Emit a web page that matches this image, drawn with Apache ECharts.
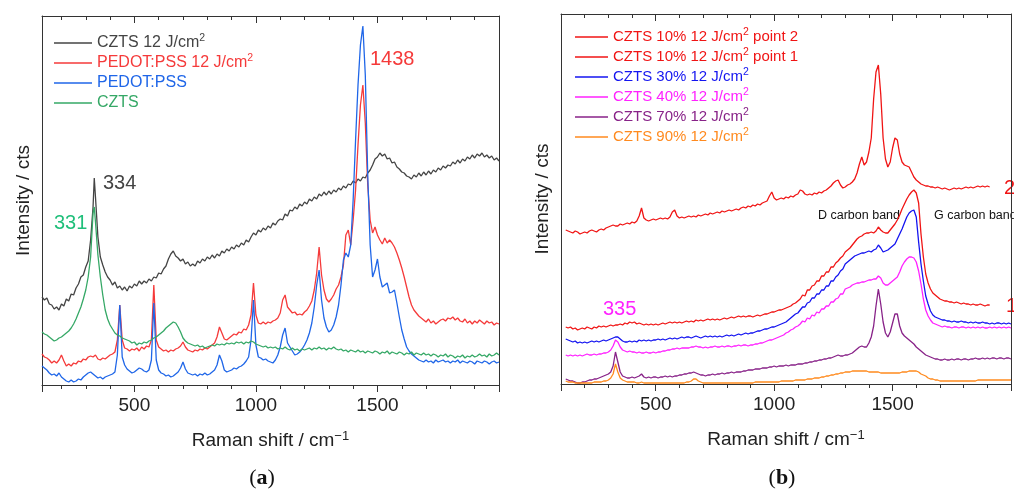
<!DOCTYPE html>
<html><head><meta charset="utf-8">
<script src="https://cdn.jsdelivr.net/npm/echarts@6/dist/echarts.min.js"></script>
<style>html,body{margin:0;padding:0;background:#fff}#c{width:1014px;height:493px}</style>
</head><body><div id="c"></div><script>
// Raman shift grid (cm^-1), shared by both panels
const ramanShift = [
120,130,140,150,160,170,180,190,200,210,
220,230,240,250,260,270,280,290,300,310,
320,330,335,340,350,360,370,380,390,400,
410,420,430,440,450,460,470,480,490,500,
510,520,530,540,550,560,570,580,590,600,
610,620,630,640,650,660,670,680,690,700,
710,720,730,740,750,760,770,780,790,800,
810,820,830,840,850,860,870,880,890,900,
910,920,930,940,950,960,970,980,990,1000,
1010,1020,1030,1040,1050,1060,1070,1080,1090,1100,
1110,1120,1130,1140,1150,1160,1170,1180,1190,1200,
1210,1220,1230,1240,1250,1260,1270,1280,1290,1300,
1310,1320,1330,1340,1350,1360,1370,1380,1390,1400,
1410,1420,1430,1440,1450,1460,1470,1480,1490,1500,
1510,1520,1530,1540,1550,1560,1570,1580,1590,1600,
1610,1620,1630,1640,1650,1660,1670,1680,1690,1700,
1710,1720,1730,1740,1750,1760,1770,1780,1790,1800,
1810,1820,1830,1840,1850,1860,1870,1880,1890,1900,
1910,1920,1930,1940,1950,1960,1970,1980,1990,2000];

// Panel (a) intensities (arbitrary units, offset as in figure)
const aCzts12 = [
88,85,87,81,80,76,78,75,81,79,
86,84,91,90,97,101,108,110,118,124,
145,178,207,188,148,128,120,113,108,105,
100,103,97,99,95,98,94,99,97,101,
99,104,101,104,102,106,104,108,107,112,
111,116,119,126,131,134,129,127,124,126,
121,123,119,121,119,124,122,126,124,128,
126,130,127,131,129,134,132,136,134,138,
136,140,138,142,140,145,143,148,152,150,
155,153,157,155,159,157,162,160,164,166,
165,171,169,175,174,178,176,181,179,183,
181,186,184,188,186,191,189,193,190,194,
191,195,193,197,195,199,197,201,200,204,
202,206,204,208,207,212,215,220,226,228,
232,229,231,226,227,222,223,218,216,213,
212,209,208,206,210,208,212,209,213,210,
214,211,215,213,217,215,219,217,220,219,
223,221,225,222,226,224,228,226,230,227,
231,229,232,228,230,227,229,225,227,224];
const aPedot12 = [
31,28,27,25,22,24,22,25,30,24,
19,21,19,22,21,24,23,26,25,28,
29,28,29,30,26,25,27,26,28,30,
31,33,45,80,45,37,36,34,36,35,
37,34,38,36,39,38,45,100,45,38,
36,34,35,33,35,34,36,37,39,43,
38,35,34,33,35,34,36,35,37,36,
38,40,42,48,58,52,46,45,47,49,
51,50,53,52,56,55,60,70,102,70,
62,61,63,61,63,62,64,65,67,72,
85,90,78,75,72,73,70,71,70,73,
75,79,84,95,112,138,110,95,86,83,
86,90,96,100,108,120,150,155,140,165,
195,240,280,300,262,200,165,152,158,150,
145,141,147,142,145,142,138,132,125,117,
108,98,88,80,75,72,69,67,65,63,
66,62,64,61,63,65,66,64,67,66,
68,65,67,64,63,66,62,64,61,64,
62,65,63,61,64,62,63,60,62,61];
const aPedot = [
19,17,15,12,10,11,9,12,8,6,
4,3,5,3,4,6,5,8,10,12,
13,11,10,9,7,8,6,8,9,10,
11,13,30,80,28,20,16,14,12,13,
15,17,16,14,13,15,25,82,25,15,
12,11,9,10,8,9,11,13,17,23,
16,12,11,10,11,9,11,10,12,10,
11,13,15,20,30,24,15,13,14,15,
17,16,18,19,21,24,28,45,85,40,
28,27,25,26,24,23,22,25,30,38,
50,57,42,38,34,30,31,33,36,40,
45,52,62,78,100,115,85,67,58,53,
55,60,68,80,100,125,132,128,140,185,
245,300,340,359,310,210,140,108,115,126,
108,98,100,102,92,93,95,82,68,55,
46,38,34,31,29,27,25,24,23,25,
23,24,22,25,23,24,25,23,24,22,
24,23,25,22,24,23,22,24,23,21,
24,23,22,24,23,21,23,24,22,23];
const aCzts = [
53,51,50,48,46,44,45,47,48,50,
52,54,57,61,66,72,78,86,95,108,
128,172,178,163,130,108,90,75,66,60,
56,52,50,49,47,46,45,44,42,43,
40,42,41,43,42,44,45,47,48,50,
52,54,57,59,61,63,62,58,53,47,
44,42,41,40,39,40,38,39,37,38,
39,40,39,41,40,41,40,42,41,42,
41,43,42,43,41,43,42,44,43,41,
40,39,38,39,37,38,37,38,36,37,
36,38,36,35,37,35,36,34,36,35,
36,37,35,37,36,38,36,37,35,37,
36,38,36,35,36,34,35,33,35,34,
33,35,33,34,32,34,33,32,34,33,
31,33,32,34,31,33,32,31,33,32,
30,32,31,33,30,32,31,30,32,30,
31,29,31,30,28,30,29,31,28,30,
29,27,29,28,30,27,29,28,30,28,
29,31,29,30,28,31,29,30,32,30];

// Panel (b) intensities
const bC10p2 = [
154,153,152,151,153,152,150,151,152,151,
153,154,153,152,154,155,154,156,157,158,
159,158,159,158,160,159,160,161,160,162,
161,163,168,176,166,164,163,164,165,164,
165,166,165,166,165,167,172,174,168,166,
167,166,167,168,167,168,167,169,168,169,
170,169,171,170,171,172,171,173,172,173,
174,173,174,175,174,176,177,176,178,177,
179,178,180,179,181,182,183,188,192,186,
184,185,186,185,187,186,188,187,189,190,
194,193,190,189,190,189,191,190,192,191,
193,194,196,198,201,203,204,199,196,197,
199,200,202,205,211,220,227,219,222,232,
246,285,312,319,290,246,225,217,222,236,
246,244,230,222,219,218,217,212,207,204,
202,200,199,198,198,197,197,196,197,196,
195,196,195,194,195,196,195,196,195,196,
197,196,197,196,197,198,197,198,197,198,
197,null,null,null,null,null,null,null,null,null];
const bC10p1 = [
57,56,57,55,56,54,55,56,55,57,
56,55,57,56,58,57,58,57,58,59,
58,59,60,59,60,59,61,60,62,61,
62,60,61,60,59,60,59,60,59,60,
59,60,61,60,61,62,61,62,61,62,
61,62,63,62,63,62,64,63,64,63,
64,65,64,65,64,65,64,65,66,65,
66,67,66,67,68,67,68,67,68,68,
67,68,69,68,69,70,70,71,72,72,
73,74,74,75,76,77,78,80,81,83,
85,89,88,94,94,98,99,103,103,108,
108,112,112,117,117,121,123,126,128,132,
134,136,139,142,145,147,148,150,151,151,
152,151,153,157,154,152,151,151,154,157,
160,164,169,175,180,185,189,192,194,191,
181,150,127,110,101,95,91,89,87,85,
84,83,83,82,82,81,82,81,80,81,
80,80,79,80,79,79,80,79,78,79,
79,null,null,null,null,null,null,null,null,null];
const bC30 = [
45,44,43,42,43,41,42,41,42,41,
42,43,42,43,42,43,44,43,44,45,
46,47,48,47,45,43,42,42,43,42,
43,42,44,43,44,43,44,43,44,44,
45,44,45,44,45,46,45,46,45,46,
47,46,47,47,46,47,48,47,46,47,
48,47,48,47,48,47,48,47,48,49,
48,49,48,49,50,49,50,51,50,51,
51,52,53,53,54,55,55,56,57,57,
58,59,60,61,62,64,66,68,70,71,
74,77,77,81,82,86,86,90,90,94,
94,98,98,103,103,107,109,113,115,120,
122,124,126,128,129,130,131,131,132,133,
132,134,135,139,136,132,133,134,136,138,
140,145,150,155,161,167,171,173,174,167,
142,120,103,88,80,73,69,67,66,65,
64,64,63,63,62,63,62,62,63,62,
62,61,62,61,62,61,61,62,61,61,
60,61,60,61,61,60,61,60,61,60];
const bC40 = [
29,28,29,28,29,28,29,28,29,30,
29,29,30,29,30,30,31,31,32,34,
38,44,45,42,37,34,33,32,33,32,
32,31,32,31,31,32,31,31,32,31,
32,32,33,33,34,34,35,35,36,35,
36,36,36,36,37,37,38,37,37,36,
37,36,37,37,38,37,37,38,37,38,
38,37,38,38,39,38,39,39,38,39,
39,40,40,41,41,42,43,44,44,45,
46,47,48,49,51,52,54,55,57,58,
60,63,62,66,65,69,68,72,71,75,
75,78,78,82,82,85,86,90,90,95,
96,97,99,100,101,101,102,102,103,104,
104,105,105,108,106,101,99,99,101,103,
105,107,112,118,122,125,127,127,126,122,
113,100,85,74,68,64,61,60,59,58,
57,58,57,57,56,57,57,56,57,57,
56,57,56,57,56,57,56,57,56,56,
57,56,57,56,57,56,57,56,57,56];
const bC70 = [
5,4,3,3,2,1,1,2,2,3,
4,4,5,5,6,7,8,9,10,12,
18,32,34,22,12,8,7,6,6,7,
6,7,8,10,7,6,7,6,7,7,
6,7,7,8,7,8,7,8,8,9,
9,10,10,11,11,12,11,10,9,9,
8,9,9,10,9,10,10,11,10,11,
11,12,11,12,12,12,13,13,14,14,
14,15,15,15,16,16,16,17,17,18,
17,18,18,18,19,18,19,19,19,20,
20,20,21,21,22,22,23,23,24,24,
25,25,26,26,27,28,29,28,28,29,
29,30,31,33,35,37,38,37,37,41,
47,58,78,95,80,62,51,47,52,61,
70,70,58,51,48,46,44,42,40,37,
35,33,31,29,28,27,26,25,25,24,
24,25,24,24,25,24,25,25,24,25,
25,24,25,25,26,25,25,26,25,26,
25,26,26,25,26,26,25,26,26,25];
const bC90 = [
3,2,2,2,1,1,1,1,1,1,
1,1,2,2,2,2,3,3,4,6,
10,20,22,12,6,4,3,2,2,2,
2,1,1,2,1,1,1,1,1,1,
1,1,1,1,1,1,1,1,1,1,
1,1,2,2,3,5,5,3,2,1,
1,1,1,1,1,1,1,1,1,1,
1,1,1,1,1,1,1,1,1,1,
1,2,2,2,2,2,2,2,2,2,
2,2,3,3,3,3,3,3,4,4,
4,4,4,5,5,5,6,6,6,7,
7,8,8,9,9,10,10,11,11,12,
12,12,13,13,13,13,13,13,13,12,
12,12,12,12,11,11,11,11,11,11,
11,11,11,12,12,12,13,13,13,13,
12,10,9,8,6,5,5,4,4,3,
3,3,3,3,3,3,3,3,3,3,
3,3,3,3,3,4,4,4,4,4,
4,4,4,4,4,4,4,4,4,4];

const seriesNamesA = ['CZTS 12 J/cm²','PEDOT:PSS 12 J/cm²','PEDOT:PSS','CZTS'];
const seriesNamesB = ['CZTS 10% 12 J/cm² point 2','CZTS 10% 12 J/cm² point 1','CZTS 30% 12 J/cm²','CZTS 40% 12 J/cm²','CZTS 70% 12 J/cm²','CZTS 90% 12 J/cm²'];
const colorsA = ['#444444','#f53a3a','#1f66e8','#35a866'];
const colorsB = ['#f01414','#f01414','#1414f0','#ff22ff','#882288','#ff8a1e'];
const valuesA = [aCzts12, aPedot12, aPedot, aCzts];
const valuesB = [bC10p2, bC10p1, bC30, bC40, bC70, bC90];

const FONT = '"Liberation Sans", Arial, sans-serif';
const AX = '#333333';

function pairs(ys){ return ramanShift.map((x,i)=>[x, ys[i]]); }

function makeX(gi, min, max){
  const base = {type:'value', gridIndex:gi, min:min, max:max, minInterval:500, maxInterval:500,
    axisLine:{show:true, onZero:false, lineStyle:{color:AX, width:1}},
    minorTick:{show:true, splitNumber:5, length:4, lineStyle:{color:AX, width:1}},
    splitLine:{show:false}, minorSplitLine:{show:false}};
  return [
    Object.assign({}, base, {position:'bottom',
      axisTick:{show:true, inside:false, length:7, lineStyle:{color:AX, width:1}},
      axisLabel:{show:true, margin:11, color:'#222', fontFamily:FONT, fontSize:19,
        formatter:function(v){ return (v%500===0 && v>min && v<max) ? String(v) : ''; }},
      name:'Raman shift / cm{sup|−1}', nameLocation:'middle', nameGap:45,
      nameTextStyle:{color:'#222', fontFamily:FONT, fontSize:19,
        rich:{sup:{fontSize:13, fontFamily:FONT, color:'#222', verticalAlign:'top', padding:[0,0,8,0]}}}}),
    Object.assign({}, base, {position:'top',
      axisTick:{show:true, inside:true, length:7, lineStyle:{color:AX, width:1}},
      axisLabel:{show:false}})
  ];
}
function makeY(gi, max){
  return [
    {type:'value', gridIndex:gi, min:0, max:max, position:'left',
      axisLine:{show:true, lineStyle:{color:AX, width:1}}, axisTick:{show:false}, axisLabel:{show:false},
      splitLine:{show:false},
      name:'Intensity / cts', nameLocation:'middle', nameGap:9, nameRotate:90,
      nameTextStyle:{color:'#222', fontFamily:FONT, fontSize:19}},
    {type:'value', gridIndex:gi, min:0, max:max, position:'right',
      axisLine:{show:true, lineStyle:{color:AX, width:1}}, axisTick:{show:false}, axisLabel:{show:false},
      splitLine:{show:false}}
  ];
}

const series = [];
valuesA.forEach((v,i)=>series.push({name:seriesNamesA[i], type:'line', xAxisIndex:0, yAxisIndex:0,
  data:pairs(v), showSymbol:false, symbol:'none', animation:false, connectNulls:false,
  lineStyle:{color:colorsA[i], width:1.3}, itemStyle:{color:colorsA[i]}}));
valuesB.forEach((v,i)=>series.push({name:seriesNamesB[i], type:'line', xAxisIndex:2, yAxisIndex:2,
  data:pairs(v), showSymbol:false, symbol:'none', animation:false, connectNulls:false,
  lineStyle:{color:colorsB[i], width:1.3}, itemStyle:{color:colorsB[i]}}));

function legendItems(names, colors){
  return names.map((n,i)=>({name:n, textStyle:{color:colors[i],
    rich:{sup:{color:colors[i], fontSize:10.5, fontFamily:FONT, verticalAlign:'top', lineHeight:20}}}}));
}
const legendCommon = {orient:'vertical', icon:'rect', itemHeight:1.5, itemGap:0, selectedMode:false,
  padding:0, textStyle:{fontFamily:FONT, fontSize:16, lineHeight:20},
  formatter:function(n){ return n.replace('²','{sup|2}'); }};

function txt(x, y, text, color, size, extra){
  return Object.assign({type:'text', x:x, y:y, silent:true,
    style:{text:text, fill:color, fontFamily:FONT, fontSize:size, align:'left', verticalAlign:'middle'}}, extra||{});
}

const option = {
  backgroundColor:'#ffffff',
  animation:false,
  grid:[
    {left:42, top:16, width:457, height:369, containLabel:false},
    {left:561, top:14, width:461, height:370, containLabel:false}
  ],
  xAxis:[].concat(makeX(0,120,2000), makeX(1,100,2000)),
  yAxis:[].concat(makeY(0,369), makeY(1,370)),
  legend:[
    Object.assign({}, legendCommon, {left:54, top:33, itemWidth:38, data:legendItems(seriesNamesA, colorsA)}),
    Object.assign({}, legendCommon, {left:575, top:27, itemWidth:33, data:legendItems(seriesNamesB, colorsB),
      textStyle:{fontFamily:FONT, fontSize:15, lineHeight:20}})
  ],
  series:series,
  graphic:[
    txt(103,183,'334','#444444',20),
    txt(54,223,'331','#1fbf7a',20),
    txt(370,59,'1438','#f53a3a',20),
    txt(603,309,'335','#ff22ff',20),
    txt(818,216,'D carbon band','#111111',12.5),
    txt(934,216,'G carbon band','#111111',12.5),
    txt(1004,188,'2','#f01414',20),
    txt(1006,306,'1','#f01414',20),
    {type:'text', x:262, y:478, silent:true, style:{text:'({b|a})', fill:'#111', fontFamily:'"Liberation Serif", serif', fontSize:22, align:'center', verticalAlign:'middle',
      rich:{b:{fontWeight:'bold', fontFamily:'"Liberation Serif", serif', fontSize:22, fill:'#111'}}}},
    {type:'text', x:782, y:478, silent:true, style:{text:'({b|b})', fill:'#111', fontFamily:'"Liberation Serif", serif', fontSize:22, align:'center', verticalAlign:'middle',
      rich:{b:{fontWeight:'bold', fontFamily:'"Liberation Serif", serif', fontSize:22, fill:'#111'}}}}
  ]
};
const chart = echarts.init(document.getElementById('c'), null, {renderer:'canvas'});
chart.setOption(option);
</script></body></html>
